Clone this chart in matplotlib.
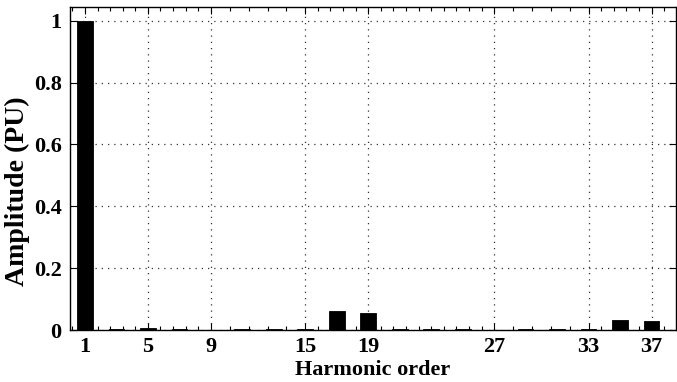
import numpy as np
import matplotlib
matplotlib.use('Agg')
from matplotlib import pyplot as plt

# harmonic spectrum, per-unit amplitudes of the odd harmonics
harmonics = [1, 3, 5, 7, 9, 11, 13, 15, 17, 19, 21, 23, 25, 27, 29, 31, 33, 35, 37]
amplitude = [1.0, 0.005, 0.007, 0.004, 0.0, 0.003, 0.003, 0.003, 0.062, 0.056,
             0.003, 0.003, 0.003, 0.0, 0.002, 0.002, 0.003, 0.031, 0.028]

xticks = [1, 5, 9, 15, 19, 27, 33, 37]
yticks = [0, 0.2, 0.4, 0.6, 0.8, 1.0]
ylabels = ['0', '0.2', '0.4', '0.6', '0.8', '1']

plt.rcParams['font.family'] = ['Liberation Serif', 'DejaVu Serif']
plt.rcParams['font.weight'] = 'bold'

fig = plt.figure(figsize=(6.77, 3.82), dpi=100)
ax = fig.add_axes([0.1034, 0.136, 0.895, 0.846])

ax.bar(harmonics, amplitude, width=1.0, color='black', edgecolor='black',
       linewidth=0.6, zorder=3)

ax.set_xlim(0.05, 38.55)
ax.set_ylim(0, 1.045)

# minor ticks: split each major gap into 5 (or 10 for wide gaps)
minor = []
for a, b in zip(xticks[:-1], xticks[1:]):
    n = 10 if b - a > 6 else 5
    minor.extend(np.linspace(a, b, n + 1)[1:-1])
minor.extend([0.2, 37.8])
ax.set_xticks(xticks)
ax.set_xticks(minor, minor=True)
ax.set_yticks(yticks)
ax.set_yticklabels(ylabels)

ax.grid(True, which='major', linestyle=(0, (1, 4)), color='#333333',
        linewidth=0.9, zorder=0)
ax.tick_params(axis='both', which='major', direction='in', length=5, width=0.8,
               top=True, right=True, labelsize=16)
ax.tick_params(axis='x', which='major', pad=5)
ax.tick_params(axis='y', which='major', pad=6)
ax.tick_params(axis='both', which='minor', direction='in', length=3, width=0.8,
               top=True, right=True)
for s in ax.spines.values():
    s.set_linewidth(1.0)

ax.set_xlabel('Harmonic order', fontsize=16, fontweight='bold', labelpad=2)
ax.set_ylabel('Amplitude (PU)', fontsize=20, fontweight='bold')
ax.yaxis.set_label_coords(-0.066, 0.43)

plt.savefig('out.png', dpi=100)
